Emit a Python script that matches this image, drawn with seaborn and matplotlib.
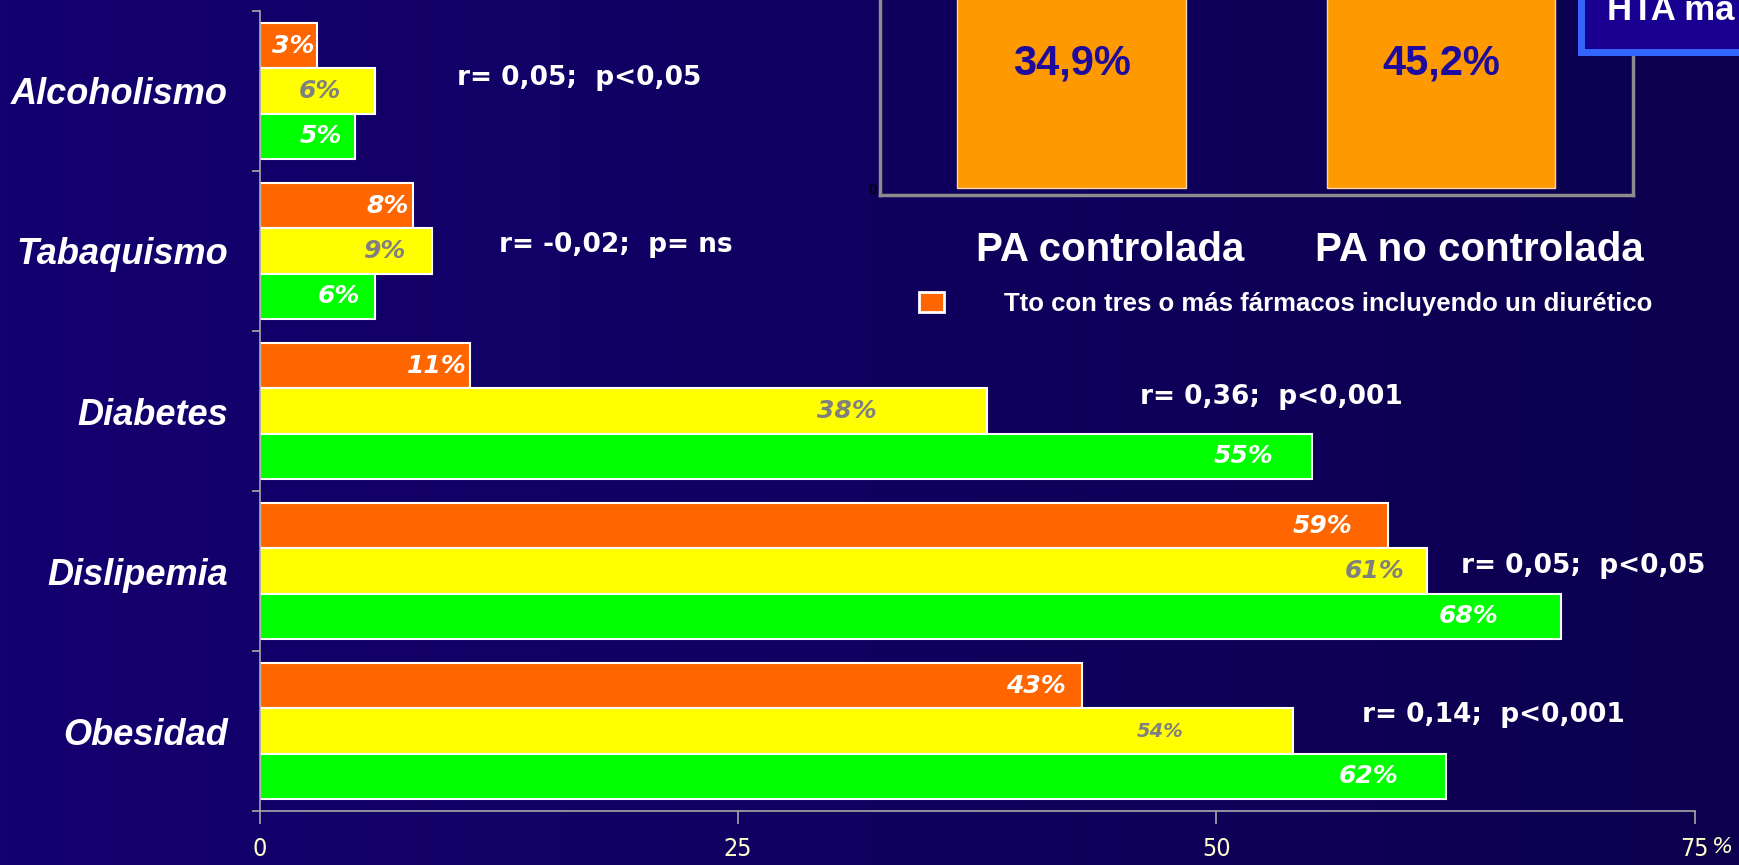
import numpy as np
import pandas as pd
import seaborn as sns
import matplotlib.pyplot as plt
import matplotlib.transforms as mtransforms
from matplotlib.patches import Patch, Rectangle

# --- datos del grafico principal ---
categorias = ["Alcoholismo", "Tabaquismo", "Diabetes", "Dislipemia", "Obesidad"]
series = ["Serie 1", "Serie 2", "Serie 3"]
serie_naranja = [3, 8, 11, 59, 43]
serie_amarilla = [6, 9, 38, 61, 54]
serie_verde = [5, 6, 55, 68, 62]
correlaciones = ["r= 0,05;  p<0,05", "r= -0,02;  p= ns", "r= 0,36;  p<0,001",
                 "r= 0,05;  p<0,05", "r= 0,14;  p<0,001"]
ticks_x = [0, 25, 50, 75]

# --- datos del recuadro ---
grupos_inset = ["PA controlada", "PA no controlada"]
valores_inset = [34.9, 45.2]
leyenda_txt = "Tto con tres o más fármacos incluyendo un diurético"

# posiciones de los textos (solo maquetacion)
pos_corr = [(10.3, -0.08), (12.5, 0.96), (46.0, 1.91), (62.8, 2.97), (57.6, 3.90)]
sep_naranja = [3, 4, 4, 36, 17]
sep_amarilla = [33, 26, 110, 22, 109]
sep_verde = [13, 14, 39, 62, 47]

colores = ["#FF6600", "#FFFF00", "#00FF00"]
color_txt = ["white", "#808080", "white"]

data = pd.DataFrame({
    "categoria": categorias * 3,
    "serie": [s for s in series for _ in categorias],
    "valor": serie_naranja + serie_amarilla + serie_verde,
})

fig = plt.figure(figsize=(17.4, 8.65), dpi=100)

# fondo degradado
ax_bg = fig.add_axes([0, 0, 1, 1], zorder=-10)
c1 = np.array([0x14, 0x00, 0x70]) / 255
c2 = np.array([0x0C, 0x00, 0x4E]) / 255
t = np.linspace(0, 1, 256)[None, :, None]
grad = c1 + (c2 - c1) * t
ax_bg.imshow(grad, aspect="auto", extent=[0, 1, 0, 1])
ax_bg.axis("off")

## -- grafico de barras principal -- ##
ax = fig.add_axes([0.1493, 0.0624, 0.8246, 0.9249])
ax.set_facecolor("none")
sns.barplot(data=data, x="valor", y="categoria", hue="serie", hue_order=series,
            palette=colores, orient="h", width=0.85, edgecolor="white",
            linewidth=1.5, saturation=1, legend=False, ax=ax)
ax.set_xlim(0, 75)
ax.set_ylim(4.5, -0.5)
ax.set_xlabel("")
ax.set_ylabel("")

seps = [sep_naranja, sep_amarilla, sep_verde]
for i, cont in enumerate(ax.containers):
    for j, bar in enumerate(cont):
        w = bar.get_width()
        yc = bar.get_y() + bar.get_height() / 2
        tam = 14 if (i == 1 and j == 4) else 18
        ax.annotate(f"{w:.0f}%", xy=(w, yc), xytext=(-seps[i][j], 0),
                    textcoords="offset pixels", ha="right", va="center",
                    color=color_txt[i], fontsize=tam, fontweight="bold",
                    fontstyle="italic", family="DejaVu Sans")

for txt, (xx, yy) in zip(correlaciones, pos_corr):
    ax.text(xx, yy, txt, color="white", fontsize=19, fontweight="bold",
            family="DejaVu Sans", ha="left", va="center")

for s in ["top", "right"]:
    ax.spines[s].set_visible(False)
for s in ["left", "bottom"]:
    ax.spines[s].set_color("#A8A8A8")
    ax.spines[s].set_linewidth(1.2)

ax.set_xticks(ticks_x)
ax.set_xticklabels([str(v) for v in ticks_x], color="#FFFFCC", fontsize=18,
                   fontstretch="condensed",
                   family=["Liberation Sans Narrow", "DejaVu Sans"])
ax.tick_params(axis="x", length=9, color="#A8A8A8", width=1.2, pad=10)
ax.text(1.012, -0.045, "%", transform=ax.transAxes, color="#FFFFCC",
        fontsize=16, fontstyle="italic", ha="left", va="center")

ax.set_yticks(range(len(categorias)))
ax.set_yticklabels(categorias, color="white", fontsize=26, fontweight="bold",
                   fontstyle="italic", family="Liberation Sans")
ax.tick_params(axis="y", length=0, pad=23)
ax.set_yticks(np.arange(-0.5, 5, 1), minor=True)
ax.tick_params(axis="y", which="minor", length=6, color="#A8A8A8", width=1.2)

## -- recuadro superior -- ##
ax_in = fig.add_axes([0.5057, 0.7746, 0.4328, 0.40])
ax_in.set_facecolor("none")
sns.barplot(x=grupos_inset, y=valores_inset, color="#FF9900", saturation=1,
            width=0.62, edgecolor="#F5D8B0", linewidth=1, ax=ax_in)
ax_in.set_xlim(-0.52, 1.52)
ax_in.set_ylim(-1, 50)
for k, v in enumerate(valores_inset):
    ax_in.text(k, 18.4, f"{v:.1f}%".replace(".", ","), color="#1E0A9C",
               fontsize=30, fontweight="bold", family="Liberation Sans",
               ha="center", va="center")
ax_in.spines["top"].set_visible(False)
for s in ["left", "bottom", "right"]:
    ax_in.spines[s].set_color("#8C8C8C")
    ax_in.spines[s].set_linewidth(2.5)
ax_in.set_yticks([0])
ax_in.set_yticklabels(["0"], color="black", fontsize=10,
                      family=["Liberation Sans Narrow", "DejaVu Sans"])
ax_in.tick_params(axis="y", length=0, pad=2)
ax_in.tick_params(axis="x", length=0, pad=26)
ax_in.set_xticklabels(grupos_inset, color="white", fontsize=29,
                      fontweight="bold", family="Liberation Sans")
desplaza = mtransforms.ScaledTranslation(38 / 100, 0, fig.dpi_scale_trans)
for lab in ax_in.get_xticklabels():
    lab.set_transform(lab.get_transform() + desplaza)

fig.legend(handles=[Patch(facecolor="#FF6600", edgecolor="white", linewidth=2)],
           labels=[leyenda_txt], loc="center left",
           bbox_to_anchor=(0.528, 0.649), frameon=False, borderpad=0,
           borderaxespad=0, handlelength=1.0, handleheight=0.8,
           handletextpad=2.3,
           prop={"family": "Liberation Sans", "weight": "bold", "size": 18.5},
           labelcolor="white")

# recuadro del titulo (cortado en el original)
fig.patches.append(Rectangle((0.9086, 0.94), 0.2, 0.2, transform=fig.transFigure,
                             facecolor="#1A0090", edgecolor="#3366FF",
                             linewidth=5, zorder=20))
fig.text(0.9236, 0.9769, "HTA ma", color="white", fontsize=25,
         fontweight="bold", family="Liberation Sans", ha="left",
         va="baseline", zorder=21)

fig.savefig("out.png", dpi=100, facecolor="#10005E")
